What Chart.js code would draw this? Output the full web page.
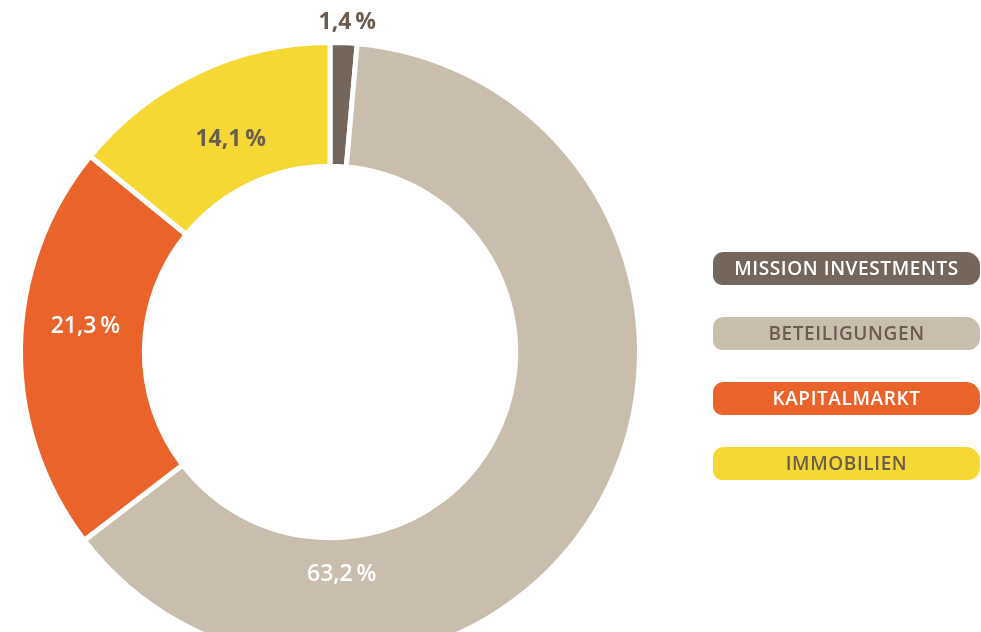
<!DOCTYPE html>
<html>
<head>
<meta charset="utf-8">
<script src="https://cdn.jsdelivr.net/npm/chart.js@4.4.1/dist/chart.umd.min.js"></script>
<style>
  html, body { margin: 0; padding: 0; background: #fff; overflow: hidden; }
  #wrap { position: relative; width: 981px; height: 632px; overflow: hidden; }
  #chart { position: absolute; left: 0; top: 0; }
  #legend { position: absolute; left: 713px; top: 0; width: 268px; }
  .item {
    position: absolute; left: 0; width: 267px; height: 33px;
    border-radius: 10px 14px 12px 9px;
    font-family: "Open Sans", sans-serif; font-weight: 600; font-size: 19px;
    letter-spacing: 0.6px; line-height: 33px; text-align: center;
  }
</style>
</head>
<body>
<div id="wrap">
  <canvas id="chart" width="981" height="670"></canvas>
  <div id="legend"></div>
</div>
<script>
// data
const categories = ['MISSION INVESTMENTS', 'BETEILIGUNGEN', 'KAPITALMARKT', 'IMMOBILIEN'];
const shares = [1.4, 63.2, 21.3, 14.1];

// styles
const FILL = ['#74665b', '#c9bdad', '#e9632b', '#f6d835'];
const TEXT_ON = ['#ffffff', '#6b5c50', '#ffffff', '#6b5c50'];
const LABEL_COLOR = ['#6b5c50', '#ffffff', '#ffffff', '#6b5c50'];
const LABEL_WEIGHT = ['700', '600', '600', '700'];
// label placement: angle (deg, clockwise from top) and distance from centre
const LABEL_POS = [[3, 330], [177, 223], [-84, 246], [-25, 235]];
const LEGEND_Y = [252, 317, 382, 447];

const fmt = v => v.toFixed(1).replace('.', ',') + '\u2009%';

const labelPlugin = {
    id: 'sliceLabels',
    afterDatasetsDraw(chart) {
        const arc = chart.getDatasetMeta(0).data[0];
        const ctx = chart.ctx;
        ctx.save();
        ctx.textAlign = 'center';
        ctx.textBaseline = 'middle';
        shares.forEach((v, i) => {
            const [a, r] = LABEL_POS[i];
            const rad = a * Math.PI / 180;
            ctx.font = LABEL_WEIGHT[i] + ' 23px "Open Sans", sans-serif';
            ctx.fillStyle = LABEL_COLOR[i];
            ctx.fillText(fmt(v), arc.x + Math.sin(rad) * r, arc.y - Math.cos(rad) * r);
        });
        ctx.restore();
    }
};

new Chart(document.getElementById('chart'), {
    type: 'doughnut',
    data: {
        labels: categories,
        datasets: [{
            data: shares,
            backgroundColor: FILL,
            borderColor: '#fff',
            borderWidth: 5,
            hoverOffset: 0
        }]
    },
    options: {
        responsive: false,
        animation: false,
        cutout: '60%',
        layout: { padding: { left: 18, right: 339, top: 40, bottom: 6 } },
        plugins: { legend: { display: false }, tooltip: { enabled: false } }
    },
    plugins: [labelPlugin]
});

// legend
const legend = document.getElementById('legend');
categories.forEach((c, i) => {
    const d = document.createElement('div');
    d.className = 'item';
    d.style.top = LEGEND_Y[i] + 'px';
    d.style.background = FILL[i];
    d.style.color = TEXT_ON[i];
    d.textContent = c;
    legend.appendChild(d);
});
</script>
</body>
</html>
